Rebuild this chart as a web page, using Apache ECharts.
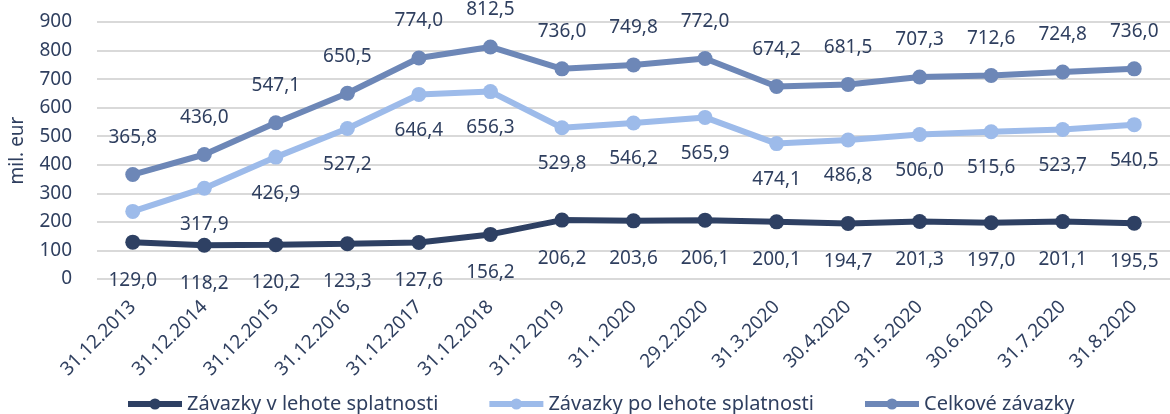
<!DOCTYPE html>
<html>
<head>
<meta charset="utf-8">
<script src="https://cdn.jsdelivr.net/npm/echarts@6/dist/echarts.min.js"></script>
<style>
  html, body { margin: 0; padding: 0; background: #fff; }
  #main { width: 1170px; height: 414px; }
</style>
</head>
<body>
<div id="main"></div>
<script>
    // data
    var dates = ['31.12.2013', '31.12.2014', '31.12.2015', '31.12.2016', '31.12.2017', '31.12.2018',
        '31.12 2019', '31.1.2020', '29.2.2020', '31.3.2020', '30.4.2020', '31.5.2020', '30.6.2020',
        '31.7.2020', '31.8.2020'];
    var inTerm = [129.0, 118.2, 120.2, 123.3, 127.6, 156.2, 206.2, 203.6, 206.1, 200.1, 194.7, 201.3, 197.0, 201.1, 195.5];
    var overdue = [236.8, 317.9, 426.9, 527.2, 646.4, 656.3, 529.8, 546.2, 565.9, 474.1, 486.8, 506.0, 515.6, 523.7, 540.5];
    var total = [365.8, 436.0, 547.1, 650.5, 774.0, 812.5, 736.0, 749.8, 772.0, 674.2, 681.5, 707.3, 712.6, 724.8, 736.0];
    var seriesNames = ['Závazky v lehote splatnosti', 'Závazky po lehote splatnosti', 'Celkové závazky'];

    var textColor = '#2f3f5f';
    var fontFamily = '"Noto Sans", "Open Sans", sans-serif';

    var chartDom = document.getElementById('main');
    var myChart = echarts.init(chartDom);

    function fmt(p) {
        return p.value.toFixed(1).replace('.', ',');
    }

    function makeSeries(name, values, color, pos, dist) {
        return {
            name: name,
            type: 'line',
            data: values,
            symbol: 'circle',
            symbolSize: 15,
            lineStyle: { width: 6, color: color },
            itemStyle: { color: color },
            label: {
                show: true,
                position: pos,
                distance: dist,
                formatter: fmt,
                color: textColor,
                fontSize: 19,
                fontFamily: fontFamily
            },
            animation: false
        };
    }

    // first overdue point has no label in the original
    var overdueData = overdue.map(function (v, i) {
        return i === 0 ? { value: v, label: { show: false } } : v;
    });

    var option = {
        grid: {
            left: 97,
            right: 0,
            top: 22,
            bottom: 135
        },
        legend: {
            bottom: -5,
            left: 120,
            itemWidth: 54,
            itemHeight: 14,
            itemGap: 48,
            lineStyle: { width: 6 },
            textStyle: { color: textColor, fontSize: 20, fontFamily: fontFamily },
            data: seriesNames
        },
        xAxis: {
            type: 'category',
            data: dates,
            boundaryGap: true,
            axisLine: { show: false },
            axisTick: { show: false },
            axisLabel: {
                rotate: 45,
                interval: 0,
                margin: 25,
                color: textColor,
                fontSize: 19,
                fontFamily: fontFamily
            }
        },
        yAxis: {
            type: 'value',
            min: 0,
            max: 900,
            interval: 100,
            name: 'mil. eur',
            nameLocation: 'middle',
            nameGap: 70,
            nameRotate: 90,
            nameTextStyle: { color: textColor, fontSize: 19, fontFamily: fontFamily },
            axisLine: { show: false },
            axisTick: { show: false },
            axisLabel: { margin: 25, color: textColor, fontSize: 19, fontFamily: fontFamily },
            splitLine: { lineStyle: { color: '#d9d9d9', width: 2 } }
        },
        series: [
            makeSeries(seriesNames[0], inTerm, '#2e4063', 'bottom', 21),
            makeSeries(seriesNames[1], overdueData, '#9dbbea', 'bottom', 19),
            makeSeries(seriesNames[2], total, '#6d87b7', 'top', 20)
        ]
    };

    myChart.setOption(option);
</script>
</body>
</html>
